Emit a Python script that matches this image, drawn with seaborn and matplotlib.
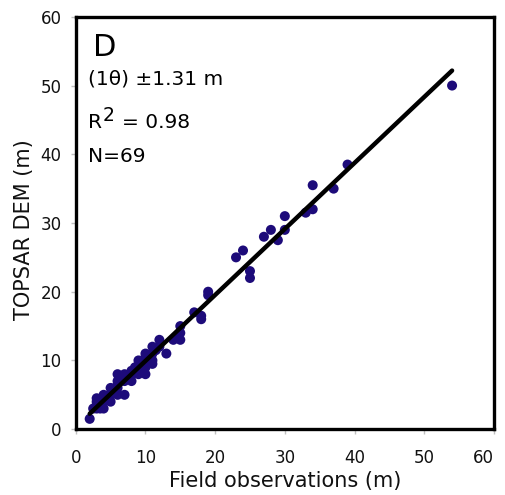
import numpy as np
import pandas as pd
import matplotlib
matplotlib.use("Agg")
import matplotlib.pyplot as plt
import seaborn as sns

# Field observations (m)
field_obs = [54, 39, 37, 34, 34, 33, 30, 30, 29, 28,
             27, 24, 23, 25, 25, 19, 19, 17, 18, 18,
             15, 15, 14.5, 15, 14, 13, 12, 11, 11, 10,
             11, 11, 10, 9, 10, 10, 9, 9, 8, 8,
             7, 6, 7, 6, 6, 7, 6, 5, 5, 4,
             4, 3, 3, 4, 3, 2, 3, 4, 5, 8,
             9.5, 12, 11.5, 10, 6, 8.5, 3.5, 4.5, 2.5]
# TOPSAR DEM (m)
topsar_dem = [50, 38.5, 35, 35.5, 32, 31.5, 31, 29, 27.5, 29,
              28, 26, 25, 23, 22, 20, 19.5, 17, 16.5, 16,
              15, 14, 13.5, 13, 13, 11, 13, 12, 11, 11,
              10, 9.5, 10, 10, 9, 8, 8, 9, 8.5, 7,
              8, 8, 7, 7, 6.5, 5, 5, 5, 4, 5,
              4.5, 4.5, 4, 3, 3, 1.5, 3.5, 4, 6, 8,
              9.5, 12, 11.5, 10.5, 6, 9, 3, 4.5, 3]

x_ticks = [0, 10, 20, 30, 40, 50, 60]
y_ticks = [0, 10, 20, 30, 40, 50, 60]
panel_label = "D"
error_text = "(1\u03b8) \u00b11.31 m"
r2_parts = ("R", "2", "= 0.98")
n_text = "N=69"

df = pd.DataFrame({"field": field_obs, "dem": topsar_dem})

sns.set_style("white")
plt.rcParams['font.family'] = ['DejaVu Sans']

fig = plt.figure(figsize=(5.05, 4.95), dpi=100)
ax = fig.add_axes([0.150, 0.133, 0.828, 0.833])

sns.regplot(data=df, x="field", y="dem", ax=ax, ci=None, truncate=True,
            scatter_kws=dict(s=52, color="#1d0b7a", edgecolor="none", alpha=1, zorder=2),
            line_kws=dict(color="black", lw=3.2, zorder=3))

ax.set_xlim(0, 60)
ax.set_ylim(0, 60)
ax.set_xticks(x_ticks)
ax.set_yticks(y_ticks)
ax.tick_params(axis="both", which="major", direction="out", length=3.8, width=1,
               color="#c0c0c0", labelsize=12, labelcolor="#111111",
               bottom=True, left=True)
ax.tick_params(axis="x", pad=10.5)
ax.tick_params(axis="y", pad=6.5)
xlabels = ax.get_xticklabels()
xlabels[-1].set_horizontalalignment("right")
for sp in ax.spines.values():
    sp.set_color("black")
    sp.set_linewidth(2.4)

ax.set_xlabel("Field observations (m)", fontsize=15, color="#111111", labelpad=3)
ax.set_ylabel("TOPSAR DEM (m)", fontsize=15, color="#111111")
ax.yaxis.set_label_coords(-0.099, 0.485)

ax.text(0.041, 0.905, panel_label, transform=ax.transAxes, fontsize=22, color="black")
ax.text(0.03, 0.835, error_text, transform=ax.transAxes, fontsize=14.5, color="black")
r2_y = 0.731
ax.annotate(r2_parts[0], xy=(0.03, r2_y), xycoords="axes fraction", fontsize=14.5,
            color="black", va="baseline")
ax.annotate(r2_parts[1], xy=(0.03, r2_y), xycoords="axes fraction",
            xytext=(10.2, 5), textcoords="offset points", fontsize=13.5,
            color="black", va="baseline")
ax.annotate(r2_parts[2], xy=(0.03, r2_y), xycoords="axes fraction",
            xytext=(24.5, 0), textcoords="offset points", fontsize=14.5,
            color="black", va="baseline")
ax.text(0.03, 0.648, n_text, transform=ax.transAxes, fontsize=14.5, color="black")

fig.savefig("out.png", dpi=100)
